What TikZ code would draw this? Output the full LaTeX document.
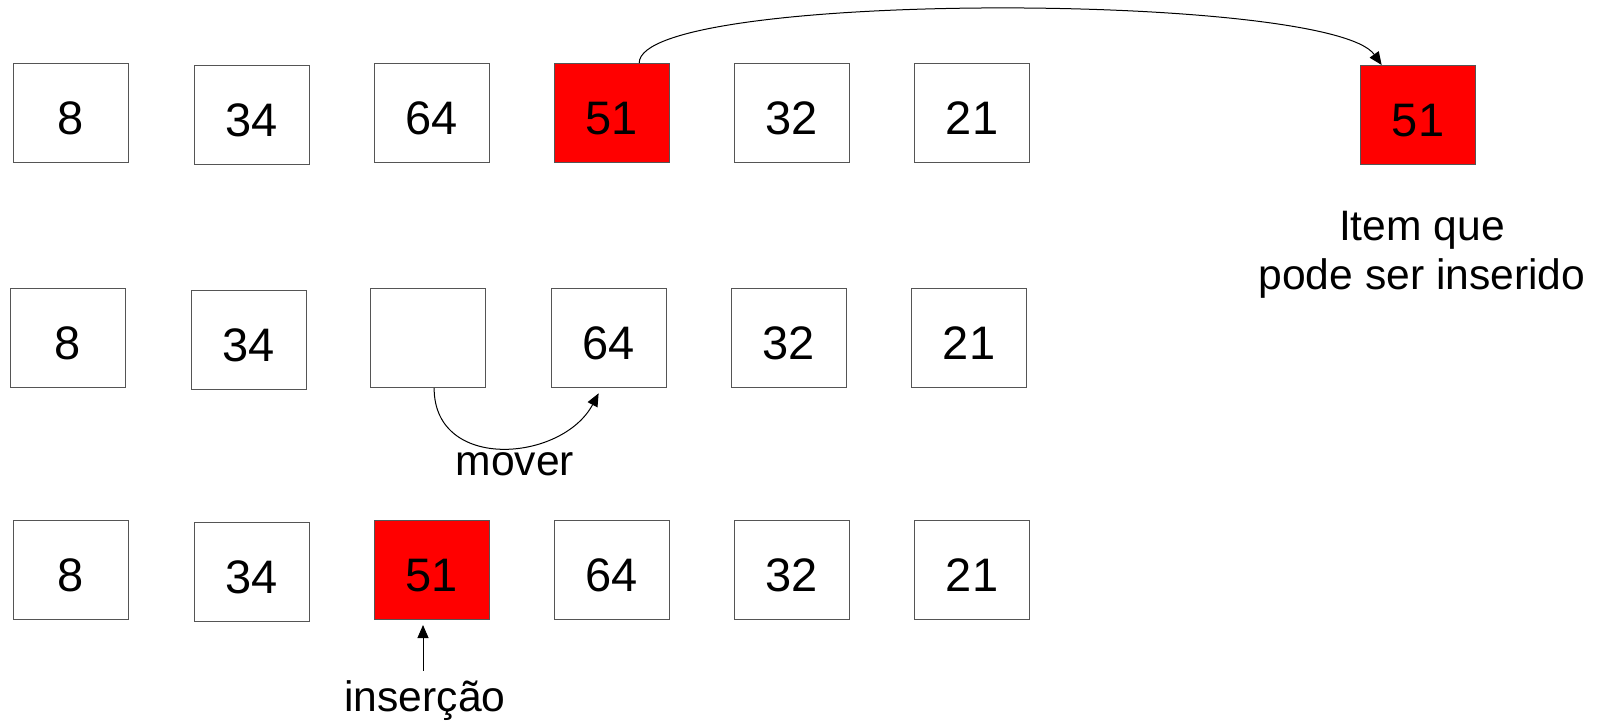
\documentclass[tikz,border=0pt]{standalone}
\usepackage{fontspec}
\setmainfont{Liberation Sans}
\usetikzlibrary{arrows.meta,positioning,calc}
\definecolor{cellred}{RGB}{255,0,0}
\definecolor{cellline}{RGB}{85,85,85}
\tikzset{
  cell/.style={draw=cellline, line width=0.5pt, fill=white, inner sep=0pt,
               minimum width=57.5pt, minimum height=49.5pt,
               text height=21pt, text depth=0pt,
               font=\fontsize{23.5}{27}\selectfont},
  hot/.style={cell, fill=cellred},
  lbl/.style={font=\fontsize{21.3}{24.5}\selectfont, align=center, inner sep=1pt},
  arr/.style={-{Triangle[length=6.5pt,width=5.5pt]}, black, line width=0.5pt},
}
\begin{document}
\begin{tikzpicture}[x=0.5pt, y=-0.5pt]
    \useasboundingbox (0,0) rectangle (1606,722);
    % linha de cima
    \node[cell] (t8)  at (70.5,113) {8};
    \node[cell] (t34) at (252,115)  {34};
    \node[cell] (t64) at (432,113)  {64};
    \node[hot]  (t51) at (611.5,113) {51};
    \node[cell] (t32) at (791.5,113) {32};
    \node[cell] (t21) at (972,113)  {21};
    \node[hot]  (key) at (1418,115) {51};
    \node[lbl]  (keylbl) at (1422,255) {Item que\\pode ser inserido};
    \draw[arr] (t51.61) .. controls (639,-10) and (1330,-8) .. (key.126);
    % linha do meio
    \node[cell] (m8)   at (67.5,338) {8};
    \node[cell] (m34)  at (249,340)  {34};
    \node[cell] (mgap) at (428,338)  {};
    \node[cell] (m64)  at (608.5,338) {64};
    \node[cell] (m32)  at (788.5,338) {32};
    \node[cell] (m21)  at (969,338)  {21};
    \node[lbl]  (mov)  at (515,464)  {mover};
    \draw[arr, shorten >=3pt] (mgap.-83) .. controls (434,472) and (562,462) .. (m64.-98);
    % linha de baixo
    \node[cell] (b8)  at (70.5,570) {8};
    \node[cell] (b34) at (252,572)  {34};
    \node[hot]  (b51) at (432,570)  {51};
    \node[cell] (b64) at (611.5,570) {64};
    \node[cell] (b32) at (791.5,570) {32};
    \node[cell] (b21) at (972,570)  {21};
    \node[lbl]  (ins) at (425,701)  {inserção};
    \draw[arr] ([xshift=-1pt, yshift=4pt]ins.north) -- ([xshift=-4.5pt, yshift=-2.5pt]b51.south);
\end{tikzpicture}
\end{document}
